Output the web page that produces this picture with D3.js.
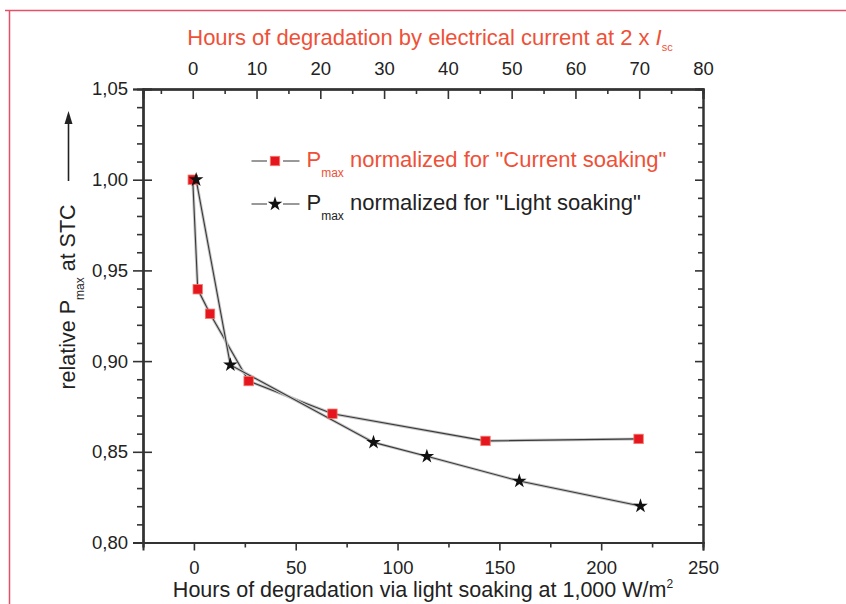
<!DOCTYPE html>
<html>
<head>
<meta charset="utf-8">
<script src="https://cdn.jsdelivr.net/npm/d3@7"></script>
<style>
  body { margin: 0; background: #fff; }
  svg { display: block; font-family: "Liberation Sans", Arial, sans-serif; }
  .axis path, .axis line { stroke: #333; }
  .axis path { stroke-width: 2; }
  .axis line { stroke-width: 1.6; }
  .axis text { fill: #222; font-size: 18.5px; font-family: "Liberation Sans", Arial, sans-serif; }
</style>
</head>
<body>
<div class="chart-container"></div>
<script>
// current soaking, hours on the top axis
var currentHours = [0, 0.78, 2.71, 8.76, 21.9, 45.9, 69.9];
var currentPmax = [1.000, 0.9396, 0.9261, 0.8890, 0.8710, 0.8560, 0.8571];
// light soaking, hours on the bottom axis
var lightHours = [1.1, 17.9, 88.2, 114.4, 159.8, 219.3];
var lightPmax = [1.000, 0.8979, 0.8552, 0.8475, 0.8339, 0.8201];

var bottomTicks = [0, 50, 100, 150, 200, 250];
var topTicks = [0, 10, 20, 30, 40, 50, 60, 70, 80];
var yTicks = [0.80, 0.85, 0.90, 0.95, 1.00, 1.05];

var W = 846, H = 604;
var margin = {top: 89, right: 143, bottom: 61.5, left: 143};
var width = W - margin.left - margin.right,
    height = H - margin.top - margin.bottom;

var svg = d3.select("div.chart-container")
  .append("svg")
  .attr("width", W)
  .attr("height", H);

// red frame lines
svg.append("path")
  .attr("d", "M5,10.5H846M9.5,10V604")
  .attr("fill", "none")
  .attr("stroke", "#e4506a")
  .attr("stroke-width", 1.5);

var chart = svg.append("g")
  .attr("transform", "translate(" + margin.left + "," + margin.top + ")");

var xBottom = d3.scaleLinear().domain([-25, 250]).range([0, width]);
var xTop = d3.scaleLinear().domain([-7.8, 80]).range([0, width]);
var y = d3.scaleLinear().domain([0.80, 1.05]).range([height, 0]);

var comma = function(d) { return d3.format(".2f")(d).replace(".", ","); };
var minorY = d3.range(0.80, 1.0501, 0.01).map(function(d) { return +d.toFixed(2); })
  .filter(function(d) { return yTicks.indexOf(d) < 0; });
var minorBottom = [-25, 25, 75, 125, 175, 225];
var minorTop = [-5, 5, 15, 25, 35, 45, 55, 65, 75];

// left axis
chart.append("g").attr("class", "axis")
  .call(d3.axisLeft(y).tickValues(minorY).tickSize(6).tickFormat(""));
chart.append("g").attr("class", "axis")
  .call(d3.axisRight(y).tickValues(yTicks).tickSize(9).tickFormat(""));
chart.append("g").attr("class", "axis")
  .call(d3.axisLeft(y).tickValues(yTicks).tickSize(10).tickPadding(5).tickFormat(comma));

// right axis
chart.append("g").attr("class", "axis")
  .attr("transform", "translate(" + width + ",0)")
  .call(d3.axisLeft(y).tickValues(minorY).tickSize(5).tickFormat(""));
chart.append("g").attr("class", "axis")
  .attr("transform", "translate(" + width + ",0)")
  .call(d3.axisLeft(y).tickValues(yTicks).tickSize(8).tickFormat(""));

// bottom axis
chart.append("g").attr("class", "axis")
  .attr("transform", "translate(0," + height + ")")
  .call(d3.axisBottom(xBottom).tickValues(minorBottom).tickSize(5).tickFormat(""));
chart.append("g").attr("class", "axis")
  .attr("transform", "translate(0," + height + ")")
  .call(d3.axisBottom(xBottom).tickValues(bottomTicks).tickSize(8).tickPadding(10));

// top axis
chart.append("g").attr("class", "axis")
  .call(d3.axisBottom(xTop).tickValues(minorTop).tickSize(5).tickFormat(""));
chart.append("g").attr("class", "axis")
  .call(d3.axisBottom(xTop).tickValues(topTicks).tickSize(10).tickFormat(""));
chart.append("g").attr("class", "axis")
  .call(d3.axisTop(xTop).tickValues(topTicks).tickSize(0).tickPadding(14));

chart.selectAll(".axis .domain").attr("stroke-width", 2);

// series lines
var lineCurrent = d3.line()
  .x(function(d, i) { return xTop(currentHours[i]); })
  .y(function(d) { return y(d); });
var lineLight = d3.line()
  .x(function(d, i) { return xBottom(lightHours[i]); })
  .y(function(d) { return y(d); });

[[lineCurrent, currentPmax], [lineLight, lightPmax]].forEach(function(p) {
  chart.append("path").datum(p[1]).attr("d", p[0])
    .attr("fill", "none").attr("stroke", "#c8c8c8").attr("stroke-width", 3);
  chart.append("path").datum(p[1]).attr("d", p[0])
    .attr("fill", "none").attr("stroke", "#3a3a3a").attr("stroke-width", 1.1);
});

var star = d3.symbol().type(d3.symbolStar).size(66);

chart.selectAll(".sq")
  .data(currentPmax)
  .enter()
  .append("rect")
  .attr("class", "sq")
  .attr("x", function(d, i) { return xTop(currentHours[i]) - 4.7; })
  .attr("y", function(d) { return y(d) - 4.7; })
  .attr("width", 9.4)
  .attr("height", 9.4)
  .attr("fill", "#e5161d")
  .attr("stroke", "#f27a6e")
  .attr("stroke-width", 0.8);

chart.selectAll(".star")
  .data(lightPmax)
  .enter()
  .append("path")
  .attr("class", "star")
  .attr("d", star)
  .attr("transform", function(d, i) { return "translate(" + xBottom(lightHours[i]) + "," + y(d) + ")"; })
  .attr("fill", "#111");

// legend
var legend = svg.append("g");
var legendRows = [
  {y: 161, color: "#ee5138", text: " normalized for \"Current soaking\"", mark: "sq"},
  {y: 204, color: "#222", text: " normalized for \"Light soaking\"", mark: "star"}
];
legendRows.forEach(function(r) {
  legend.append("line").attr("x1", 251.5).attr("x2", 267).attr("y1", r.y).attr("y2", r.y)
    .attr("stroke", "#999").attr("stroke-width", 2);
  legend.append("line").attr("x1", 283).attr("x2", 299.5).attr("y1", r.y).attr("y2", r.y)
    .attr("stroke", "#999").attr("stroke-width", 2);
  if (r.mark == "sq") {
    legend.append("rect").attr("x", 270.3).attr("y", r.y - 4.7).attr("width", 9.4).attr("height", 9.4)
      .attr("fill", "#e5161d").attr("stroke", "#f27a6e").attr("stroke-width", 0.8);
  } else {
    legend.append("path").attr("d", star).attr("transform", "translate(275," + r.y + ")").attr("fill", "#111");
  }
  var t = legend.append("text")
    .attr("x", 306.5)
    .attr("y", r.y + 6)
    .attr("fill", r.color)
    .style("font-size", "22px");
  t.append("tspan").text("P");
  t.append("tspan").attr("dy", 10).style("font-size", "12px").text("max");
  t.append("tspan").attr("dy", -10).text(r.text);
});

// top title
var tt = svg.append("text")
  .attr("x", 430)
  .attr("y", 45)
  .attr("text-anchor", "middle")
  .attr("fill", "#ee5138")
  .style("font-size", "22px");
tt.append("tspan").text("Hours of degradation by electrical current at 2 x ");
tt.append("tspan").style("font-style", "italic").text("I");
tt.append("tspan").attr("dy", 6).style("font-size", "11px").text("sc");

// bottom title
var bt = svg.append("text")
  .attr("x", 423)
  .attr("y", 596.5)
  .attr("text-anchor", "middle")
  .attr("fill", "#222")
  .style("font-size", "21.5px");
bt.append("tspan").text("Hours of degradation via light soaking at 1,000 W/m");
bt.append("tspan").attr("dy", -9).style("font-size", "12px").text("2");

// y title with arrow
var yt = svg.append("text")
  .attr("transform", "translate(74.5,297) rotate(-90)")
  .attr("text-anchor", "middle")
  .attr("fill", "#222")
  .style("font-size", "21.5px");
yt.append("tspan").text("relative P");
yt.append("tspan").attr("dy", 9).style("font-size", "12px").text("max");
yt.append("tspan").attr("dy", -9).text(" at STC");

svg.append("line")
  .attr("x1", 68.5).attr("x2", 68.5).attr("y1", 181).attr("y2", 120)
  .attr("stroke", "#222").attr("stroke-width", 1.6);
svg.append("path")
  .attr("d", "M68.5,111L64.5,124L72.5,124Z")
  .attr("fill", "#222");
</script>
</body>
</html>
